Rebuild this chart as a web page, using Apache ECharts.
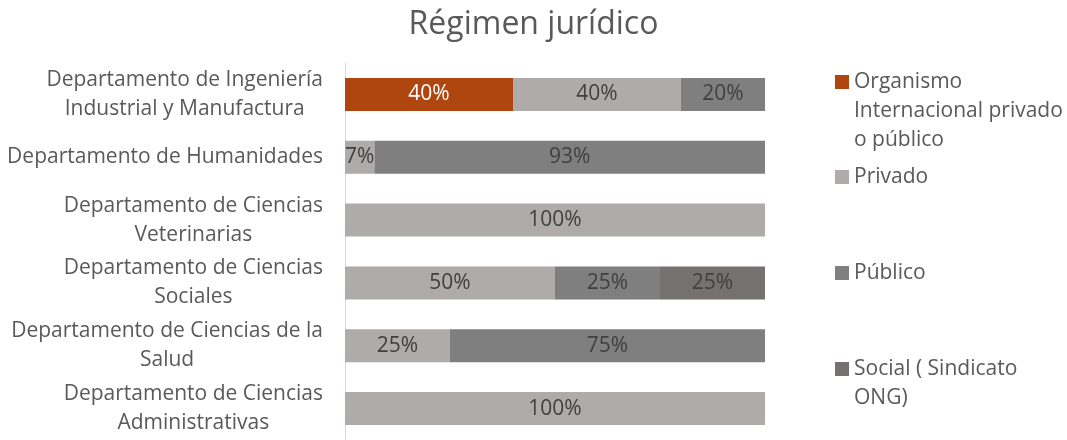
<!DOCTYPE html>
<html>
<head>
<meta charset="utf-8">
<script src="https://cdn.jsdelivr.net/npm/echarts@6/dist/echarts.min.js"></script>
<style>
    html, body { margin: 0; padding: 0; background: #fff; }
    #chart { width: 1067px; height: 440px; }
</style>
</head>
<body>
<div id="chart"></div>
<script>
    // categorias (de arriba hacia abajo)
    var departamentos = [
        'Departamento de Ingeniería\nIndustrial y Manufactura',
        'Departamento de Humanidades',
        'Departamento de Ciencias\nVeterinarias',
        'Departamento de Ciencias\nSociales',
        'Departamento de Ciencias de la\nSalud',
        'Departamento de Ciencias\nAdministrativas'
    ];

    var organismo = [40, 0, 0, 0, 0, 0];
    var privado = [40, 7, 100, 50, 25, 100];
    var publico = [20, 93, 0, 25, 75, 0];
    var social = [0, 0, 0, 25, 0, 0];

    var nombres = [
        'Organismo Internacional privado o público',
        'Privado',
        'Público',
        'Social ( Sindicato ONG)'
    ];
    var nombresLegenda = [
        'Organismo\nInternacional privado\no público',
        'Privado',
        'Público',
        'Social ( Sindicato\nONG)'
    ];

    var colores = ['#B0460F', '#AEABAA', '#7F7F7F', '#767171'];
    var FONT = '"Open Sans", "Noto Sans", sans-serif';
    var LH = 29;

    var chart = echarts.init(document.getElementById('chart'));

    var serie = function (idx, data, labelColor) {
        return {
            name: nombres[idx],
            type: 'bar',
            stack: 'total',
            barWidth: 33,
            data: data,
            itemStyle: { color: colores[idx] },
            label: {
                show: true,
                position: 'inside',
                color: labelColor,
                fontFamily: FONT,
                fontSize: 21,
                formatter: function (p) {
                    return p.value > 0 ? p.value + '%' : '';
                }
            }
        };
    };

    // una leyenda por serie; lineas vacias delante para que el icono
    // quede junto a la primera linea del texto
    var iconTops = [75, 170, 266, 362];
    var legends = nombres.map(function (n, i) {
        var lines = nombresLegenda[i].split('\n');
        var blanks = new Array(lines.length).join('\n');
        var half = (2 * lines.length - 1) * LH / 2;
        return {
            data: [n],
            left: 835,
            top: iconTops[i] + 7 - half,
            padding: 0,
            itemWidth: 14,
            itemHeight: 14,
            icon: 'rect',
            selectedMode: false,
            formatter: function () { return blanks + nombresLegenda[i]; },
            textStyle: {
                color: '#595959',
                fontFamily: FONT,
                fontSize: 21,
                lineHeight: LH
            }
        };
    });

    var option = {
        animation: false,
        title: {
            text: 'Régimen jurídico',
            left: 'center',
            top: 4,
            textStyle: {
                color: '#595959',
                fontFamily: FONT,
                fontSize: 32,
                fontWeight: 'normal'
            }
        },
        legend: legends,
        grid: {
            left: 345,
            right: 302,
            top: 63,
            bottom: 0
        },
        xAxis: {
            type: 'value',
            min: 0,
            max: 100,
            show: false
        },
        yAxis: {
            type: 'category',
            inverse: true,
            data: departamentos,
            axisLine: { lineStyle: { color: '#D9D9D9', width: 1 } },
            axisTick: { show: false },
            axisLabel: {
                margin: 22,
                formatter: function (v) {
                    return v.split('\n').map(function (s) {
                        return '{c|' + s + '}';
                    }).join('\n');
                },
                rich: {
                    c: {
                        align: 'center',
                        color: '#595959',
                        fontFamily: FONT,
                        fontSize: 21,
                        lineHeight: LH
                    }
                }
            }
        },
        series: [
            serie(0, organismo, '#FFFFFF'),
            serie(1, privado, '#404040'),
            serie(2, publico, '#404040'),
            serie(3, social, '#404040')
        ]
    };

    chart.setOption(option);
</script>
</body>
</html>
